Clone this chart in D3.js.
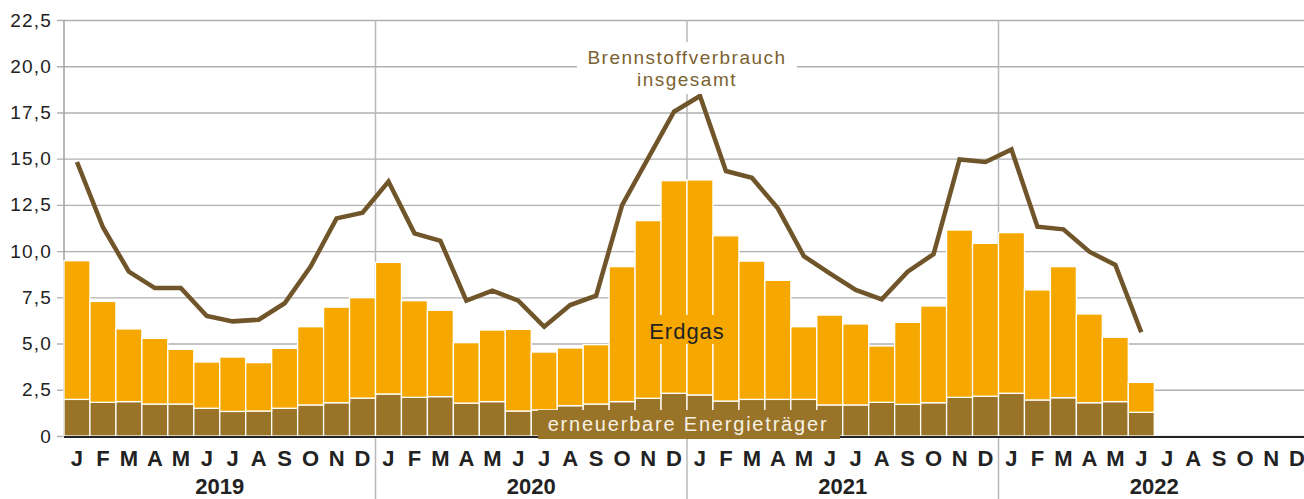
<!DOCTYPE html>
<html>
<head>
<meta charset="utf-8">
<script src="https://cdn.jsdelivr.net/npm/d3@7"></script>
<style>
  body { margin: 0; background: #fff; }
  svg { display: block; font-family: "Liberation Sans", Arial, sans-serif; }
</style>
</head>
<body>
<div id="chart"></div>
<script>
(function() {

    // chart size
    var width = 1304;
    var height = 499;

    // month letters and years
    var monthLetters = ["J", "F", "M", "A", "M", "J", "J", "A", "S", "O", "N", "D"];
    var years = ["2019", "2020", "2021", "2022"];

    // y axis ticks
    var yTicks = [0, 2.5, 5, 7.5, 10, 12.5, 15, 17.5, 20, 22.5];

    // Brennstoffverbrauch insgesamt (line), Jan 2019 - Jun 2022
    var gesamt = [
        14.82, 11.29, 8.89, 8.0, 8.0, 6.49, 6.20, 6.29, 7.18, 9.16, 11.77, 12.08,
        13.76, 10.96, 10.56, 7.32, 7.86, 7.32, 5.91, 7.08, 7.59, 12.49, 15.02, 17.54,
        18.39, 14.33, 13.97, 12.31, 9.73, 8.8, 7.9, 7.39, 8.89, 9.84, 14.96, 14.82,
        15.5, 11.32, 11.18, 9.97, 9.25, 5.61
    ];

    // erneuerbare Energietraeger (lower bars)
    var erneuerbar = [
        1.98, 1.82, 1.86, 1.73, 1.73, 1.50, 1.33, 1.35, 1.50, 1.68, 1.80, 2.05,
        2.27, 2.09, 2.13, 1.78, 1.86, 1.35, 1.41, 1.64, 1.73, 1.86, 2.04, 2.31,
        2.22, 1.89, 1.98, 1.98, 1.98, 1.68, 1.68, 1.82, 1.71, 1.80, 2.09, 2.15,
        2.31, 1.95, 2.07, 1.80, 1.86, 1.28
    ];

    // Erdgas (stacked on top)
    var erdgas = [
        7.50, 5.46, 3.93, 3.55, 2.96, 2.50, 2.94, 2.62, 3.24, 4.23, 5.17, 5.43,
        7.12, 5.23, 4.67, 3.27, 3.87, 4.42, 3.13, 3.12, 3.21, 7.30, 9.61, 11.50,
        11.63, 8.94, 7.48, 6.44, 3.93, 4.86, 4.38, 3.05, 4.44, 5.23, 9.05, 8.27,
        8.69, 5.95, 7.09, 4.80, 3.48, 1.62
    ];

    var colorGas = "#f6a800";
    var colorRen = "#997327";
    var colorLine = "#6f5529";
    var colorLabel = "#7b6232";
    var gridColor = "#b0b0b0";

    var left = 64, right = 1310, top = 20, bottom = 436;

    // all 48 months on the axis
    var allMonths = [];
    years.forEach(function(y, yi) {
        monthLetters.forEach(function(m, mi) {
            allMonths.push({ key: y + "-" + mi, letter: m, year: y, idx: yi * 12 + mi });
        });
    });

    var data = gesamt.map(function(g, i) {
        return { key: allMonths[i].key, ren: erneuerbar[i], gas: erdgas[i], total: g };
    });

    var x = d3.scaleBand()
        .domain(allMonths.map(d => d.key))
        .range([left, right])
        .padding(0);

    var y = d3.scaleLinear()
        .domain([0, 22.5])
        .range([bottom, top]);

    var de = d3.formatLocale({ decimal: ",", thousands: ".", grouping: [3], currency: ["", " €"] });
    var fmt = de.format(".1f");

    var svg = d3.select("#chart")
        .append("svg")
        .attr("width", width)
        .attr("height", height);

    // grid + y axis
    var yAxis = svg.append("g")
        .attr("transform", "translate(" + left + ",0)")
        .call(d3.axisLeft(y)
            .tickValues(yTicks)
            .tickSize(-(right - left))
            .tickPadding(12)
            .tickFormat(d => d === 0 ? "0" : fmt(d)));
    yAxis.select(".domain").remove();
    yAxis.selectAll(".tick line")
        .attr("x1", -7)
        .attr("stroke", gridColor)
        .attr("stroke-width", 1.4);
    yAxis.selectAll(".tick text")
        .attr("font-size", 19)
        .attr("letter-spacing", 1.2)
        .attr("fill", "#222")
        .attr("font-family", "Liberation Sans, Arial, sans-serif");

    // left axis line
    svg.append("line")
        .attr("x1", left).attr("x2", left)
        .attr("y1", top).attr("y2", bottom)
        .attr("stroke", "#a0a0a0")
        .attr("stroke-width", 1.5);

    // year separators
    svg.append("g")
        .selectAll("line")
        .data(years.slice(1))
        .enter().append("line")
        .attr("x1", (d, i) => x(d + "-0"))
        .attr("x2", (d, i) => x(d + "-0"))
        .attr("y1", top)
        .attr("y2", height)
        .attr("stroke", "#b8b8b8")
        .attr("stroke-width", 1.5);

    // stacked bars
    var stack = d3.stack().keys(["ren", "gas"]);
    var series = stack(data);
    var barColors = { ren: colorRen, gas: colorGas };

    svg.append("g")
        .selectAll("g")
        .data(series)
        .enter().append("g")
        .attr("fill", d => barColors[d.key])
        .selectAll("rect")
        .data(d => d)
        .enter().append("rect")
        .attr("x", d => x(d.data.key))
        .attr("width", x.bandwidth())
        .attr("y", d => y(d[1]))
        .attr("height", d => y(d[0]) - y(d[1]))
        .attr("stroke", "#fff")
        .attr("stroke-width", 1.3);

    // baseline
    svg.append("line")
        .attr("x1", left).attr("x2", right)
        .attr("y1", bottom + 1).attr("y2", bottom + 1)
        .attr("stroke", "#222")
        .attr("stroke-width", 2.2);

    // total line
    var line = d3.line()
        .x(d => x(d.key) + x.bandwidth() / 2)
        .y(d => y(d.total));

    svg.append("path")
        .datum(data)
        .attr("d", line)
        .attr("fill", "none")
        .attr("stroke", colorLine)
        .attr("stroke-width", 4.5)
        .attr("stroke-linejoin", "miter");

    // x axis: month letters
    var xAxis = svg.append("g")
        .attr("transform", "translate(0," + bottom + ")")
        .call(d3.axisBottom(x)
            .tickSize(0)
            .tickPadding(14)
            .tickFormat(k => allMonths.find(m => m.key === k).letter));
    xAxis.select(".domain").remove();
    xAxis.selectAll(".tick text")
        .attr("font-size", 22)
        .attr("font-weight", "bold")
        .attr("fill", "#222")
        .attr("font-family", "Liberation Sans, Arial, sans-serif");

    // year labels
    svg.append("g")
        .selectAll("text")
        .data(years)
        .enter().append("text")
        .attr("x", d => (x(d + "-0") + x(d + "-11") + x.bandwidth()) / 2)
        .attr("y", 494)
        .attr("text-anchor", "middle")
        .attr("font-size", 22)
        .attr("font-weight", "bold")
        .attr("fill", "#222")
        .text(d => d);

    // label: Brennstoffverbrauch insgesamt
    var lx = 687;
    svg.append("rect")
        .attr("x", 577).attr("y", 42)
        .attr("width", 220).attr("height", 52)
        .attr("fill", "#fff");
    svg.append("text")
        .attr("x", lx).attr("y", 64)
        .attr("text-anchor", "middle")
        .attr("font-size", 19)
        .attr("letter-spacing", 1.5)
        .attr("fill", colorLabel)
        .text("Brennstoffverbrauch");
    svg.append("text")
        .attr("x", lx).attr("y", 86)
        .attr("text-anchor", "middle")
        .attr("font-size", 19)
        .attr("letter-spacing", 1.5)
        .attr("fill", colorLabel)
        .text("insgesamt");

    // label: Erdgas
    svg.append("rect")
        .attr("x", 646).attr("y", 315)
        .attr("width", 82).attr("height", 29)
        .attr("fill", colorGas);
    svg.append("text")
        .attr("x", 687).attr("y", 339)
        .attr("text-anchor", "middle")
        .attr("font-size", 22)
        .attr("letter-spacing", 1)
        .attr("fill", "#222")
        .text("Erdgas");

    // label: erneuerbare Energietraeger
    svg.append("rect")
        .attr("x", 538).attr("y", 410)
        .attr("width", 302).attr("height", 29)
        .attr("fill", colorRen);
    svg.append("text")
        .attr("x", 688).attr("y", 431)
        .attr("text-anchor", "middle")
        .attr("font-size", 20)
        .attr("letter-spacing", 1.8)
        .attr("fill", "#f6f1e4")
        .text("erneuerbare Energieträger");

})();
</script>
</body>
</html>
